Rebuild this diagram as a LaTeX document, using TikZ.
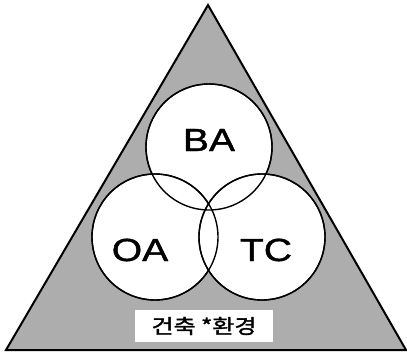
\documentclass[tikz,border=0pt]{standalone}
\usepackage{fontspec}
\setmainfont{Liberation Sans}
\newfontfamily\labfont[FakeBold=1.2]{Liberation Sans}
\newfontfamily\krfont[FakeBold=1.5]{Noto Sans CJK KR}
\begin{document}
\begin{tikzpicture}[x=1pt,y=-1pt,
  ring/.style={circle,draw=black,line width=1.4pt,fill=white,minimum size=126pt,inner sep=0pt},
  biglabel/.style={font=\labfont\fontsize{32}{32}\selectfont,xscale=1.22,inner sep=0pt},
  tagbox/.style={fill=white,draw=none,minimum width=138pt,minimum height=32pt,inner sep=0pt}]
\useasboundingbox (0,0) rectangle (407,359);
\coordinate (apex) at (208,5);
\coordinate (bl) at (6,350);
\coordinate (br) at (406,350);
\fill[black!32] (apex) -- (bl) -- (br) -- cycle;
\node[ring] (ba) at (209,147) {};
\node[ring] (oa) at (155,237) {};
\node[ring] (tc) at (262,237) {};
\draw[line width=1.4pt] (ba.center) circle[radius=63pt];
\draw[line width=1.4pt] (oa.center) circle[radius=63pt];
\draw[line width=1.4pt] (tc.center) circle[radius=63pt];
\draw[line width=2pt,line join=miter] (apex) -- (bl) -- (br) -- cycle;
\node[biglabel] (tba) at (209,140) {BA};
\node[biglabel] (toa) at (140,250) {OA};
\node[biglabel] (ttc) at (266,250) {TC};
\node[tagbox] (tag) at (204,326) {};
\node[font=\krfont\fontsize{20}{20}\selectfont,xscale=1.2,inner sep=0pt] (tagtext) at (tag.center) {건축 *환경};
\end{tikzpicture}
\end{document}
